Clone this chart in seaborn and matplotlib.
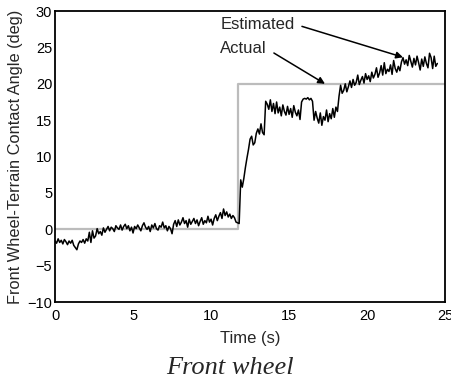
import numpy as np
import pandas as pd
import matplotlib
matplotlib.use("Agg")
import matplotlib.pyplot as plt
import seaborn as sns

# ---- data ----
actual_t = [0.0, 11.7, 11.7, 25.0]
actual_v = [0.0, 0.0, 20.0, 20.0]

est_start = 0.0
est_dt = 0.1
est_v = [
    -1.6, -1.9, -1.3, -1.8, -1.5, -2.0, -1.4, -1.7, -2.1, -1.6,
    -1.9, -1.5, -2.2, -2.5, -2.8, -2.0, -1.6, -1.8, -1.4, -1.9,
    -1.3, -1.6, -0.4, -1.8, -0.2, -1.2, -0.9, 0.1, -0.6, -0.3,
    -0.8, 0.2, -0.4, 0.0, 0.4, -0.2, 0.3, 0.1, -0.3, 0.5,
    0.2, 0.0, 0.6, -0.1, 0.4, 0.7, 0.1, 0.5, -0.2, 0.3,
    -0.5, 0.4, 0.1, 0.6, 0.2, -0.2, 0.5, 0.9, 0.3, 0.0,
    0.4, -0.3, 0.6, 0.2, 0.8, 0.1, -0.1, 0.5, 0.3, 1.0,
    0.2, 0.5, -0.2, 0.4, 0.1, -0.6, 0.7, 1.2, 0.4, 1.3,
    0.6, 1.0, 1.6, 0.8, 1.2, 0.3, 1.4, 0.7, 1.1, 1.5,
    0.8, 1.3, 0.5, 1.1, 1.6, 0.7, 1.2, 0.9, 1.8, 1.0,
    1.4, 0.6, 1.5, 2.0, 1.2, 1.8, 2.3, 1.5, 2.8, 1.9,
    2.4, 1.7, 2.1, 1.5, 1.9, 1.6, 1.0, 0.9, 0.8, 6.8,
    5.8, 7.0, 8.5, 9.8, 11.0, 12.4, 12.8, 11.6, 11.9, 13.2,
    13.8, 13.1, 14.5, 13.3, 13.0, 17.6, 17.2, 16.5, 17.8, 16.2,
    17.3, 15.9, 17.5, 16.0, 16.8, 15.6, 17.1, 16.2, 15.7, 16.9,
    15.8, 16.6, 15.4, 17.0, 16.1, 15.6, 16.4, 15.1, 17.5, 17.9,
    18.0, 17.9, 18.1, 17.8, 18.0, 17.6, 15.0, 16.2, 15.3, 14.6,
    16.0, 14.3, 15.5, 15.0, 16.4, 14.8, 15.9, 15.2, 16.6, 15.4,
    16.8, 16.2, 18.3, 19.8, 18.7, 19.1, 20.0, 18.9, 19.6, 20.4,
    19.5, 20.6, 19.8, 20.2, 21.2, 19.9, 20.5, 21.0, 20.1, 21.4,
    20.6, 21.1, 20.3, 21.6, 20.8, 21.3, 22.2, 20.9, 21.5, 22.5,
    21.2, 22.9, 21.4, 22.0, 21.7, 22.6, 21.3, 23.2, 22.1, 21.6,
    22.4, 21.8, 23.0, 23.6, 22.7, 23.3, 22.5, 23.9, 23.1, 22.3,
    23.5, 22.6, 23.8, 22.9, 21.9, 23.4, 22.4, 23.7, 22.8, 22.2,
    24.2, 23.6, 22.1, 23.8, 22.4, 22.8,
]
est_t = [round(est_start + i * est_dt, 2) for i in range(len(est_v))]

x_ticks = [0, 5, 10, 15, 20, 25]
y_ticks = [-10, -5, 0, 5, 10, 15, 20, 25, 30]
x_label = "Time (s)"
y_label = "Front Wheel-Terrain Contact Angle (deg)"
caption = "Front wheel"

# ---- style ----
sns.set_style("white")
plt.rcParams["font.family"] = ["Liberation Sans", "DejaVu Sans"]

fig = plt.figure(figsize=(4.51, 3.81), dpi=100)
ax = fig.add_axes([0.122, 0.207, 0.865, 0.764])

df_act = pd.DataFrame({"t": actual_t, "v": actual_v})
df_est = pd.DataFrame({"t": est_t, "v": est_v})

sns.lineplot(data=df_act, x="t", y="v", ax=ax, color="#bcbcbc", linewidth=1.6,
             sort=False, estimator=None)
sns.lineplot(data=df_est, x="t", y="v", ax=ax, color="black", linewidth=1.1,
             sort=False, estimator=None)

ax.set_xlim(0, 25)
ax.set_ylim(-10, 30)
ax.set_xticks(x_ticks)
ax.set_yticks(y_ticks)
ax.tick_params(axis="x", length=0, labelsize=10.5, pad=5, colors="black")
ax.tick_params(axis="y", length=0, labelsize=10.5, pad=2, colors="black")
for s in ax.spines.values():
    s.set_color("black")
    s.set_linewidth(1.3)
ax.set_xlabel(x_label, fontsize=12, labelpad=6)
ax.set_ylabel(y_label, fontsize=11.8, labelpad=3)

ax.annotate("Estimated", xy=(22.3, 23.65), xytext=(10.6, 28.2),
            fontsize=12, ha="left", va="center",
            arrowprops=dict(arrowstyle="-|>", color="black", lw=1.1,
                            shrinkA=3, shrinkB=0, mutation_scale=10,
                            relpos=(1.0, 0.5)))
ax.annotate("Actual", xy=(17.3, 20.0), xytext=(10.6, 24.8),
            fontsize=12, ha="left", va="center",
            arrowprops=dict(arrowstyle="-|>", color="black", lw=1.1,
                            shrinkA=3, shrinkB=0, mutation_scale=10,
                            relpos=(1.0, 0.5)))

fig.text(0.51, 0.035, caption, fontsize=19, style="italic",
         family=["Liberation Serif", "DejaVu Serif"], ha="center", va="center")

fig.savefig("out.png", dpi=100)
